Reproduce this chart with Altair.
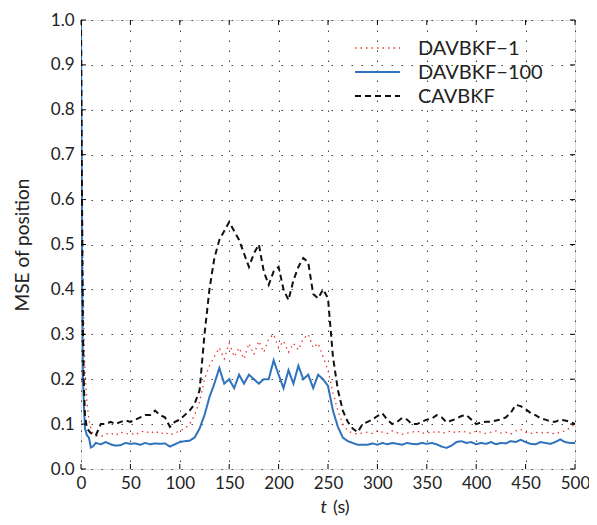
import altair as alt
import pandas as pd

t = [0, 1, 2, 3, 4, 6, 8, 10, 12, 15,
     20, 25, 30, 35, 40, 45, 50, 55, 60, 65, 70, 75, 80, 85, 90, 95,
     100, 105, 110, 115, 120, 125, 130, 135, 140, 145, 150, 155, 160, 165, 170, 175, 180, 185, 190, 195,
     200, 205, 210, 215, 220, 225, 230, 235, 240, 245, 250, 255, 260, 265, 270, 275, 280, 285, 290, 295,
     300, 305, 310, 315, 320, 325, 330, 335, 340, 345, 350, 355, 360, 365, 370, 375, 380, 385, 390, 395,
     400, 405, 410, 415, 420, 425, 430, 435, 440, 445, 450, 455, 460, 465, 470, 475, 480, 485, 490, 495, 500]

davbkf_1 = [1.0, 0.7, 0.45, 0.3, 0.22, 0.15, 0.11, 0.09, 0.08, 0.075,
            0.072, 0.078, 0.08, 0.075, 0.082, 0.078, 0.08, 0.076, 0.082, 0.085, 0.079, 0.085, 0.078, 0.082, 0.076, 0.08,
            0.085, 0.09, 0.1, 0.12, 0.15, 0.2, 0.23, 0.25, 0.27, 0.245, 0.28, 0.25, 0.27, 0.245, 0.28, 0.255, 0.285, 0.26, 0.29, 0.3,
            0.27, 0.285, 0.26, 0.28, 0.265, 0.29, 0.3, 0.27, 0.28, 0.25, 0.22, 0.17, 0.13, 0.1, 0.085, 0.08, 0.078, 0.08, 0.082, 0.079,
            0.085, 0.082, 0.079, 0.085, 0.081, 0.077, 0.08, 0.082, 0.085, 0.079, 0.082, 0.08, 0.085, 0.079, 0.082, 0.085, 0.08, 0.085, 0.082, 0.079,
            0.085, 0.082, 0.079, 0.082, 0.085, 0.08, 0.082, 0.078, 0.085, 0.088, 0.082, 0.079, 0.082, 0.08, 0.082, 0.08, 0.078, 0.082, 0.085, 0.092, 0.1]

davbkf_100 = [1.0, 0.45, 0.2, 0.14, 0.09, 0.075, 0.07, 0.048, 0.05, 0.058,
              0.055, 0.06, 0.055, 0.052, 0.053, 0.058, 0.056, 0.057, 0.054, 0.058, 0.055, 0.057, 0.056, 0.057, 0.05, 0.055,
              0.06, 0.062, 0.063, 0.07, 0.09, 0.12, 0.16, 0.19, 0.225, 0.19, 0.2, 0.18, 0.21, 0.19, 0.21, 0.2, 0.19, 0.2, 0.2, 0.242,
              0.21, 0.18, 0.22, 0.19, 0.23, 0.2, 0.21, 0.18, 0.21, 0.2, 0.185, 0.13, 0.094, 0.07, 0.062, 0.058, 0.054, 0.054, 0.054, 0.057,
              0.054, 0.058, 0.055, 0.058, 0.056, 0.054, 0.058, 0.056, 0.055, 0.058, 0.056, 0.058, 0.055, 0.05, 0.047, 0.052, 0.06, 0.062, 0.058, 0.06,
              0.055, 0.058, 0.056, 0.06, 0.055, 0.058, 0.057, 0.062, 0.06, 0.065, 0.06, 0.056, 0.055, 0.06, 0.058, 0.056, 0.06, 0.066, 0.06, 0.058, 0.058]

cavbkf = [1.0, 0.6, 0.3, 0.18, 0.12, 0.09, 0.085, 0.08, 0.078, 0.075,
          0.1, 0.1, 0.105, 0.1, 0.105, 0.108, 0.105, 0.11, 0.115, 0.12, 0.12, 0.13, 0.12, 0.115, 0.094, 0.105,
          0.11, 0.12, 0.13, 0.145, 0.175, 0.3, 0.4, 0.47, 0.51, 0.53, 0.55, 0.53, 0.51, 0.48, 0.45, 0.48, 0.5, 0.44, 0.41, 0.44,
          0.45, 0.4, 0.376, 0.42, 0.45, 0.47, 0.46, 0.39, 0.38, 0.4, 0.38, 0.25, 0.176, 0.13, 0.105, 0.09, 0.082, 0.1, 0.105, 0.11,
          0.118, 0.124, 0.11, 0.1, 0.105, 0.114, 0.11, 0.1, 0.1, 0.105, 0.11, 0.112, 0.12, 0.115, 0.104, 0.108, 0.112, 0.118, 0.12, 0.11,
          0.1, 0.104, 0.105, 0.105, 0.108, 0.11, 0.115, 0.125, 0.143, 0.14, 0.133, 0.125, 0.12, 0.113, 0.11, 0.106, 0.105, 0.11, 0.108, 0.105, 0.1]

names = ["DAVBKF\u22121", "DAVBKF\u2212100", "CAVBKF"]
colors = ["#e8392c", "#2f72bd", "#111111"]
dashes = [[1.5, 4], [1, 0], [6, 4]]
widths = [1.3, 2.0, 2.0]

x_ticks = [0, 50, 100, 150, 200, 250, 300, 350, 400, 450, 500]
y_ticks = [0.0, 0.1, 0.2, 0.3, 0.4, 0.5, 0.6, 0.7, 0.8, 0.9, 1.0]

series_data = [davbkf_1, davbkf_100, cavbkf]

W, H = 494, 449
FONT = "Lato"
TXT = "#222222"

xscale = alt.Scale(domain=[0, 500], nice=False)
yscale = alt.Scale(domain=[0, 1], nice=False)

x_axis = alt.Axis(values=x_ticks, title=None, labelFontSize=17, labelPadding=6,
                  tickSize=0, grid=True, domain=False, labelFont=FONT, labelColor=TXT,
                  labelFlush=False, gridDash=[1.5, 8.5], gridColor="#444444", gridWidth=1)
y_axis = alt.Axis(values=y_ticks, format=".1f", title="MSE of position", labelFontSize=17,
                  labelPadding=7, tickSize=0, grid=True, domain=False, labelFont=FONT,
                  labelColor=TXT, titleFont=FONT, titleFontSize=19, titleFontWeight="normal",
                  titleColor=TXT, titlePadding=18, labelFlush=False,
                  gridDash=[1.5, 8.5], gridColor="#444444", gridWidth=1)

layers = []
for i, (name, vals) in enumerate(zip(names, series_data)):
    d = pd.DataFrame({"t": t, "mse": vals})
    layers.append(
        alt.Chart(d).mark_line(strokeWidth=widths[i], color=colors[i], strokeDash=dashes[i], clip=True)
        .encode(x=alt.X("t:Q", scale=xscale, axis=x_axis),
                y=alt.Y("mse:Q", scale=yscale, axis=y_axis),
                order=alt.Order("t:Q"))
    )

# inward tick marks on all four sides
tick_df_x = pd.DataFrame({"t": x_ticks})
tick_df_y = pd.DataFrame({"mse": y_ticks})
tl = 5
xt_bottom = alt.Chart(tick_df_x).mark_rule(color="black", strokeWidth=1).encode(
    x=alt.X("t:Q", scale=xscale, axis=x_axis), y=alt.value(H), y2=alt.value(H - tl))
xt_top = alt.Chart(tick_df_x).mark_rule(color="black", strokeWidth=1).encode(
    x=alt.X("t:Q", scale=xscale, axis=x_axis), y=alt.value(0), y2=alt.value(tl))
yt_left = alt.Chart(tick_df_y).mark_rule(color="black", strokeWidth=1).encode(
    y=alt.Y("mse:Q", scale=yscale, axis=y_axis), x=alt.value(0), x2=alt.value(tl))
yt_right = alt.Chart(tick_df_y).mark_rule(color="black", strokeWidth=1).encode(
    y=alt.Y("mse:Q", scale=yscale, axis=y_axis), x=alt.value(W), x2=alt.value(W - tl))
layers += [xt_bottom, xt_top, yt_left, yt_right]

# legend (drawn manually, top right inside the plot)
leg_rows_y = [28, 52, 76]
for i, name in enumerate(names):
    ld = pd.DataFrame({"label": [name]})
    layers.append(
        alt.Chart(ld).mark_rule(color=colors[i], strokeWidth=widths[i] if i else 1.5,
                                strokeDash=dashes[i]).encode(
            x=alt.value(274), x2=alt.value(319), y=alt.value(leg_rows_y[i]))
    )
    layers.append(
        alt.Chart(ld).mark_text(font=FONT, fontSize=20, align="left", baseline="middle",
                                color=TXT).encode(
            text="label:N", x=alt.value(337), y=alt.value(leg_rows_y[i] + 1))
    )

title_df = pd.DataFrame({"a": ["t"], "b": ["(s)"]})
xt_t = alt.Chart(title_df).mark_text(font=FONT, fontSize=18, fontStyle="italic", align="right",
                                     baseline="middle", color=TXT).encode(
    text="a:N", x=alt.value(246), y=alt.value(H + 39))
xt_s = alt.Chart(title_df).mark_text(font=FONT, fontSize=18, align="left",
                                     baseline="middle", color=TXT).encode(
    text="b:N", x=alt.value(252), y=alt.value(H + 39))
layers += [xt_t, xt_s]

chart = alt.layer(*layers).properties(
    width=W, height=H,
    padding={"left": 73, "top": 12, "right": 14, "bottom": 48},
    autosize=alt.AutoSizeParams(type="none"),
).configure_view(stroke="black", strokeWidth=1.3).configure(background="white")

chart.save("out.html", embed_options={"renderer": "svg", "actions": False})
